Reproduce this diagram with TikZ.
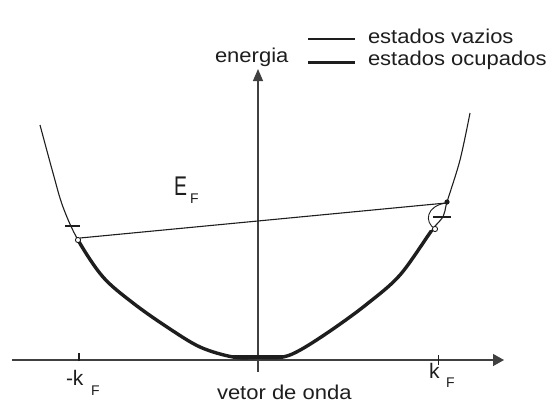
\documentclass[tikz,border=0pt]{standalone}
\usepackage{fontspec}
\setmainfont{Liberation Sans}
\usetikzlibrary{arrows.meta}
\definecolor{ink}{HTML}{1E1E1E}
\tikzset{
  lbl/.style={anchor=base west, inner sep=0pt, outer sep=0pt, text=ink},
  txt/.style={lbl, font=\fontsize{20}{22}\selectfont},
  thinline/.style={draw=ink, line width=1.1pt},
  thickline/.style={draw=ink, line width=3.4pt, line cap=round},
  axis/.style={draw=ink!85, line width=1.3pt},
  curve/.style={smooth, tension=0.55},
}
\newcommand{\wide}[1]{\scalebox{1.1}[1]{#1}}
\newcommand{\bandpts}{(40,125) (53,173) (63,207) (78,240) (103,277) (133,303) (167,327) (200,347) (233,357) (258,357.5) (283,357) (302,349) (333,329) (367,304) (400,275) (432,230) (443,217) (447,202) (460,160) (470,113)}
\begin{document}
\begin{tikzpicture}[x=1pt,y=-1pt]
\useasboundingbox (0,0) rectangle (554,407);
\fill[white] (0,0) rectangle (554,407);

% axes
\coordinate (xs) at (12,360);
\coordinate (xe) at (504,360);
\coordinate (ys) at (258,372);
\coordinate (ye) at (258,69);
\draw[axis, -{Triangle[length=11pt,width=12pt]}] (xs) -- (xe);
\draw[axis, -{Triangle[length=12pt,width=10pt]}] (ys) -- (ye);

% axis ticks
\draw[ink, line width=2pt] (79,353) -- (79,361);
\draw[ink, line width=1pt] (438,355) -- (438,365);

% dispersion curve (thin: empty states)
\draw[thinline] plot[curve] coordinates {\bandpts};
% thick part (occupied states), clipped below the Fermi line
\begin{scope}
  \clip (0,241) -- (78,241) -- (435,230) -- (554,230) -- (554,407) -- (0,407) -- cycle;
  \draw[thickline] plot[curve] coordinates {\bandpts};
\end{scope}
\draw[ink, line width=4.2pt] (233,357) -- (283,357);

% small loop near right Fermi point
\draw[ink, line width=0.9pt] (446,203) .. controls (426,206) and (424,222) .. (435,229);

% Fermi level line
\coordinate (fl) at (80,238);
\coordinate (fr) at (446,203);
\draw[thinline] (fl) -- (fr);

% horizontal marks on the curve
\draw[ink, line width=2.4pt] (65,226) -- (80,226);
\draw[ink, line width=1.5pt] (433,217) -- (451,217);

% end markers
\draw[ink, fill=white, line width=0.9pt] (78,240) circle (2.6pt);
\draw[ink, fill=white, line width=0.9pt] (435,229) circle (2.6pt);
\fill[ink] (447,202) circle (2.6pt);

% legend
\coordinate (l1a) at (308,39); \coordinate (l1b) at (355,39);
\coordinate (l2a) at (308,62); \coordinate (l2b) at (355,62);
\draw[ink, line width=1.1pt] (l1a) -- (l1b);
\draw[ink, line width=3pt] (l2a) -- (l2b);
\node[txt] (vaz) at (368,43) {\wide{estados vazios}};
\node[txt] (ocu) at (368,65) {\wide{estados ocupados}};

% labels
\node[txt] (en) at (215,62) {\wide{energia}};
\node[txt] (vo) at (217,399) {\wide{vetor de onda}};
\node[lbl, font=\fontsize{27}{29}\selectfont] (E) at (174,195) {\scalebox{0.72}[1]{E}};
\node[lbl, font=\fontsize{14}{16}\selectfont] (EF) at (190,203) {F};
\node[lbl, font=\fontsize{21}{23}\selectfont] (mk) at (66,385) {-k};
\node[lbl, font=\fontsize{14}{16}\selectfont] (mkF) at (91,395) {F};
\node[lbl, font=\fontsize{21}{23}\selectfont] (k) at (429,378) {k};
\node[lbl, font=\fontsize{14}{16}\selectfont] (kF) at (446,387) {F};
\end{tikzpicture}
\end{document}
